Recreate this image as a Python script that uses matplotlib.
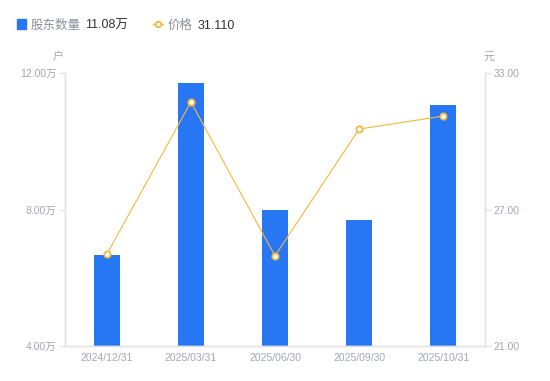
import matplotlib.pyplot as plt
from matplotlib.lines import Line2D
from matplotlib.ticker import FuncFormatter

plt.rcParams['font.family'] = ['Liberation Sans', 'Noto Sans CJK SC', 'DejaVu Sans']

dates = ["2024/12/31", "2025/03/31", "2025/06/30", "2025/09/30", "2025/10/31"]
holders = [6.67, 11.71, 7.99, 7.70, 11.08]   # 万户
price = [25.04, 31.73, 24.96, 30.54, 31.11]

bar_color = '#2777f5'
line_color = '#f7b73c'
tick_color = '#a3a6b4'
axis_color = '#e3e4e8'

fig = plt.figure(figsize=(5.5, 3.81), dpi=100)
ax = fig.add_axes([0.118, 0.092, 0.764, 0.716])
ax2 = ax.twinx()

x = list(range(len(dates)))
ax.bar(x, holders, width=0.3, color=bar_color, zorder=2)
ax2.plot(x, price, color=line_color, lw=0.8, marker='o', ms=4.5,
         markerfacecolor='white', markeredgecolor=line_color, markeredgewidth=1.3, zorder=3)

ax.set_xlim(-0.5, len(dates) - 0.5)
ax.set_ylim(4, 12)
ax.set_yticks([4, 8, 12])
ax.yaxis.set_major_formatter(FuncFormatter(lambda v, p: f"{v:.2f}万"))
ax2.set_ylim(21, 33)
ax2.set_yticks([21, 27, 33])
ax2.yaxis.set_major_formatter(FuncFormatter(lambda v, p: f"{v:.2f}"))

ax.set_xticks(x)
ax.set_xticklabels(dates)

for a in (ax, ax2):
    for s in a.spines.values():
        s.set_color(axis_color)
        s.set_linewidth(1)
    a.spines['top'].set_visible(False)
    a.tick_params(axis='y', colors=axis_color, labelcolor=tick_color, labelsize=7.5, length=4, width=1, pad=2)
ax.tick_params(axis='x', length=0, labelcolor=tick_color, labelsize=7.5, pad=5)

fig.text(0.105, 0.85, "户", color=tick_color, fontsize=8, ha='center', va='center')
fig.text(0.89, 0.85, "元", color=tick_color, fontsize=8, ha='center', va='center')

# legend
ly = 0.937
fig.patches.append(plt.Rectangle((0.031, ly - 0.012), 0.016, 0.024, transform=fig.transFigure,
                                 color=bar_color, figure=fig))
fig.text(0.056, ly - 0.006, "股东数量", color='#8d909b', fontsize=9, va='center')
fig.text(0.155, ly - 0.006, "11.08万", color='#333333', fontsize=9, va='center')
fig.lines.append(Line2D([0.278, 0.296], [ly, ly], transform=fig.transFigure,
                        color=line_color, lw=1))
fig.lines.append(Line2D([0.287], [ly], transform=fig.transFigure, color=line_color,
                        marker='o', ms=4, markerfacecolor='white', markeredgewidth=1.3))
fig.text(0.305, ly - 0.006, "价格", color='#8d909b', fontsize=9, va='center')
fig.text(0.36, ly - 0.006, "31.110", color='#333333', fontsize=9, va='center')

fig.savefig("out.png", dpi=100)
